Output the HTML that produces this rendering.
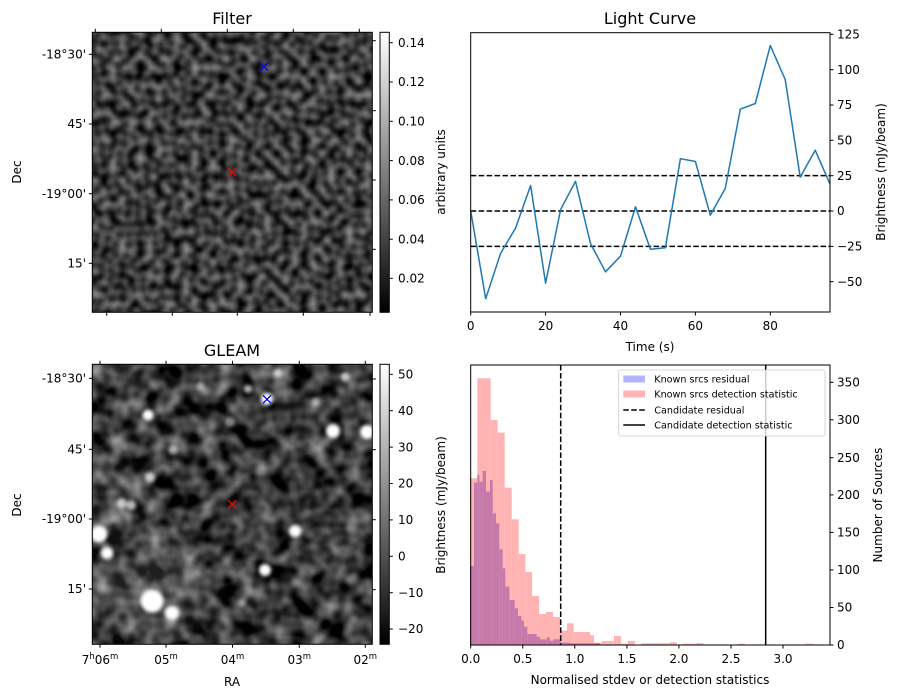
<!DOCTYPE html>
<html><head><meta charset="utf-8"><style>
html,body{margin:0;padding:0;background:#fff;}
svg{display:block;font-family:"DejaVu Sans","Liberation Sans",sans-serif;}
</style></head><body>
<svg width="898" height="699" viewBox="0 0 898 699" xmlns="http://www.w3.org/2000/svg">
<defs>
<filter id="fnoise" x="92.3" y="32.3" width="280" height="280" filterUnits="userSpaceOnUse" color-interpolation-filters="sRGB">
<feTurbulence type="fractalNoise" baseFrequency="0.11" numOctaves="1" seed="3" result="t"/>
<feColorMatrix in="t" type="matrix" values="0.9 0 0 0 -0.21  0.9 0 0 0 -0.21  0.9 0 0 0 -0.21  0 0 0 0 1"/>
</filter>
<filter id="gnoise" x="92.3" y="364.3" width="280" height="280" filterUnits="userSpaceOnUse" color-interpolation-filters="sRGB">
<feTurbulence type="fractalNoise" baseFrequency="0.055" numOctaves="2" seed="7" result="t"/>
<feColorMatrix in="t" type="matrix" values="1.05 0 0 0 -0.3  1.05 0 0 0 -0.3  1.05 0 0 0 -0.3  0 0 0 0 1"/>
</filter>
<filter id="blur2" color-interpolation-filters="sRGB"><feGaussianBlur stdDeviation="1.8"/></filter>
<filter id="blur8" x="-1" y="-1" width="3" height="3" color-interpolation-filters="sRGB"><feGaussianBlur stdDeviation="14"/></filter>
<linearGradient id="cb" x1="0" y1="1" x2="0" y2="0"><stop offset="0" stop-color="#000"/><stop offset="1" stop-color="#fff"/></linearGradient>
<clipPath id="cg"><rect x="92.3" y="364.3" width="280" height="280"/></clipPath>
</defs>

<!-- FILTER image -->
<rect x="92.3" y="32.3" width="280" height="280" fill="#444" filter="url(#fnoise)"/>
<rect x="92.3" y="32.3" width="280" height="280" fill="none" stroke="#000" stroke-width="1"/>
<text x="232" y="24" font-size="16" text-anchor="middle">Filter</text>
<g stroke="#000" stroke-width="1">
<line x1="95.3" y1="32.3" x2="95.3" y2="28.8"/><line x1="161.3" y1="32.3" x2="161.3" y2="28.8"/><line x1="227.3" y1="32.3" x2="227.3" y2="28.8"/><line x1="293.3" y1="32.3" x2="293.3" y2="28.8"/><line x1="359.3" y1="32.3" x2="359.3" y2="28.8"/>
<line x1="106.7" y1="312.3" x2="106.7" y2="315.8"/><line x1="172.3" y1="312.3" x2="172.3" y2="315.8"/><line x1="237.3" y1="312.3" x2="237.3" y2="315.8"/><line x1="303.3" y1="312.3" x2="303.3" y2="315.8"/><line x1="370" y1="312.3" x2="370" y2="315.8"/>
<line x1="92.3" y1="54.3" x2="88.8" y2="54.3"/><line x1="92.3" y1="124" x2="88.8" y2="124"/><line x1="92.3" y1="193.7" x2="88.8" y2="193.7"/><line x1="92.3" y1="263.3" x2="88.8" y2="263.3"/>
<line x1="372.3" y1="40.7" x2="375.8" y2="40.7"/><line x1="372.3" y1="110.7" x2="375.8" y2="110.7"/><line x1="372.3" y1="180" x2="375.8" y2="180"/><line x1="372.3" y1="249.3" x2="375.8" y2="249.3"/>
</g>
<g font-size="12" text-anchor="end">
<text x="86" y="58.5">-18°30'</text><text x="86" y="128.2">45'</text><text x="86" y="197.9">-19°00'</text><text x="86" y="267.5">15'</text>
</g>
<text transform="translate(21,172) rotate(-90)" font-size="12" text-anchor="middle">Dec</text>
<g stroke-width="1.3"><path d="M260,62.7 l8,8 M268,62.7 l-8,8" stroke="#0000ff"/><path d="M228.3,168.3 l8,8 M236.3,168.3 l-8,8" stroke="#ff0000"/></g>
<!-- filter colorbar -->
<rect x="380" y="32.3" width="9.3" height="280" fill="url(#cb)" stroke="#000" stroke-width="1"/>
<g stroke="#000"><line x1="389.3" y1="42.7" x2="392.8" y2="42.7"/><line x1="389.3" y1="82" x2="392.8" y2="82"/><line x1="389.3" y1="121.3" x2="392.8" y2="121.3"/><line x1="389.3" y1="160.6" x2="392.8" y2="160.6"/><line x1="389.3" y1="199.9" x2="392.8" y2="199.9"/><line x1="389.3" y1="239.2" x2="392.8" y2="239.2"/><line x1="389.3" y1="278.3" x2="392.8" y2="278.3"/></g>
<g font-size="12"><text x="398" y="46.9">0.14</text><text x="398" y="86.2">0.12</text><text x="398" y="125.5">0.10</text><text x="398" y="164.8">0.08</text><text x="398" y="204.1">0.06</text><text x="398" y="243.4">0.04</text><text x="398" y="282.5">0.02</text></g>
<text transform="translate(445,172) rotate(-90)" font-size="12" text-anchor="middle">arbitrary units</text>

<!-- GLEAM image -->
<g clip-path="url(#cg)">
<rect x="92.3" y="364.3" width="280" height="280" fill="#444" filter="url(#gnoise)"/>
<g fill="#fff" opacity="0.12" filter="url(#blur8)"><ellipse cx="150" cy="590" rx="60" ry="45"/><ellipse cx="110" cy="500" rx="25" ry="40"/></g>
<g filter="url(#blur2)" fill="#fff">
<circle cx="148" cy="415" r="5.5"/><circle cx="99" cy="534" r="8.5"/><circle cx="107" cy="553" r="6"/><circle cx="152" cy="601" r="11.5"/><circle cx="172" cy="613" r="7"/><circle cx="295" cy="531" r="6"/><circle cx="265" cy="570" r="6"/><circle cx="333" cy="431" r="7"/><circle cx="367" cy="432" r="7"/><circle cx="267" cy="399" r="6"/>
<g opacity="0.7"><circle cx="278" cy="373" r="4.5"/><circle cx="345" cy="377" r="4.5"/><circle cx="150" cy="477" r="5"/><circle cx="122" cy="503" r="5"/><circle cx="131" cy="505" r="5"/><circle cx="248" cy="389" r="4"/></g>
<g opacity="0.5"><circle cx="173" cy="450" r="4.5"/><circle cx="230" cy="422" r="5"/><circle cx="200" cy="386" r="4"/><circle cx="242" cy="603" r="4"/><circle cx="315" cy="402" r="4"/></g>
</g>
</g>
<rect x="92.3" y="364.3" width="280" height="280" fill="none" stroke="#000" stroke-width="1"/>
<text x="232" y="356" font-size="16" text-anchor="middle">GLEAM</text>
<g stroke="#000" stroke-width="1">
<line x1="100" y1="364.3" x2="100" y2="360.8"/><line x1="166" y1="364.3" x2="166" y2="360.8"/><line x1="232.5" y1="364.3" x2="232.5" y2="360.8"/><line x1="299.3" y1="364.3" x2="299.3" y2="360.8"/><line x1="365.3" y1="364.3" x2="365.3" y2="360.8"/>
<line x1="100" y1="644.3" x2="100" y2="647.8"/><line x1="166" y1="644.3" x2="166" y2="647.8"/><line x1="232.5" y1="644.3" x2="232.5" y2="647.8"/><line x1="299.3" y1="644.3" x2="299.3" y2="647.8"/><line x1="365.3" y1="644.3" x2="365.3" y2="647.8"/>
<line x1="92.3" y1="378.3" x2="88.8" y2="378.3"/><line x1="92.3" y1="449.3" x2="88.8" y2="449.3"/><line x1="92.3" y1="519" x2="88.8" y2="519"/><line x1="92.3" y1="589" x2="88.8" y2="589"/>
<line x1="372.3" y1="379" x2="375.8" y2="379"/><line x1="372.3" y1="449.7" x2="375.8" y2="449.7"/><line x1="372.3" y1="519.7" x2="375.8" y2="519.7"/><line x1="372.3" y1="589.7" x2="375.8" y2="589.7"/>
</g>
<g font-size="12" text-anchor="end">
<text x="86" y="382.5">-18°30'</text><text x="86" y="453.5">45'</text><text x="86" y="523.2">-19°00'</text><text x="86" y="593.2">15'</text>
</g>
<text transform="translate(21,505) rotate(-90)" font-size="12" text-anchor="middle">Dec</text>
<g font-size="12" text-anchor="middle">
<text x="100" y="664">7<tspan font-size="8.5" dy="-5">h</tspan><tspan dy="5">06</tspan><tspan font-size="8.5" dy="-5">m</tspan></text>
<text x="166" y="664">05<tspan font-size="8.5" dy="-5">m</tspan></text>
<text x="232.5" y="664">04<tspan font-size="8.5" dy="-5">m</tspan></text>
<text x="299.3" y="664">03<tspan font-size="8.5" dy="-5">m</tspan></text>
<text x="365.3" y="664">02<tspan font-size="8.5" dy="-5">m</tspan></text>
</g>
<text x="232" y="686" font-size="12" text-anchor="middle">RA</text>
<g stroke-width="1.3"><path d="M263,395.3 l8,8 M271,395.3 l-8,8" stroke="#0000ff"/><path d="M228.3,500.3 l8,8 M236.3,500.3 l-8,8" stroke="#ff0000"/></g>
<!-- gleam colorbar -->
<rect x="380" y="364.3" width="9.3" height="280" fill="url(#cb)" stroke="#000" stroke-width="1"/>
<g stroke="#000"><line x1="389.3" y1="374.3" x2="392.8" y2="374.3"/><line x1="389.3" y1="410.7" x2="392.8" y2="410.7"/><line x1="389.3" y1="447.1" x2="392.8" y2="447.1"/><line x1="389.3" y1="483.5" x2="392.8" y2="483.5"/><line x1="389.3" y1="519.9" x2="392.8" y2="519.9"/><line x1="389.3" y1="556.3" x2="392.8" y2="556.3"/><line x1="389.3" y1="592.7" x2="392.8" y2="592.7"/><line x1="389.3" y1="629" x2="392.8" y2="629"/></g>
<g font-size="12"><text x="398" y="378.5">50</text><text x="398" y="414.9">40</text><text x="398" y="451.3">30</text><text x="398" y="487.7">20</text><text x="398" y="524.1">10</text><text x="398" y="560.5">0</text><text x="398" y="596.9">−10</text><text x="398" y="633.2">−20</text></g>
<text transform="translate(445,505) rotate(-90)" font-size="12" text-anchor="middle">Brightness (mJy/beam)</text>

<!-- LIGHT CURVE -->
<text x="650" y="24" font-size="16" text-anchor="middle">Light Curve</text>
<g stroke="#000" stroke-width="1.5" stroke-dasharray="5.55,2.4">
<line x1="470.7" y1="175.6" x2="830" y2="175.6"/><line x1="470.7" y1="211" x2="830" y2="211"/><line x1="470.7" y1="246.4" x2="830" y2="246.4"/>
</g>
<polyline fill="none" stroke="#1f77b4" stroke-width="1.5" stroke-linejoin="round" points="470.7,211 485.7,298.7 500.6,253.4 515.6,228 530.6,185.5 545.6,283.1 560.6,209.6 575.5,181.3 590.5,243.5 605.5,271.8 620.5,256.2 635.5,206.8 650.4,249.2 665.4,247.8 680.4,158.7 695.4,161.5 710.3,215.2 725.3,188.4 740.3,109.2 755.3,103.5 770.3,45.6 785.2,79.5 800.2,177.1 815.2,150.2 830,184.1"/>
<rect x="470.7" y="32.7" width="359.3" height="279.3" fill="none" stroke="#000" stroke-width="1"/>
<g stroke="#000">
<line x1="470.7" y1="312" x2="470.7" y2="315.5"/><line x1="545.6" y1="312" x2="545.6" y2="315.5"/><line x1="620.5" y1="312" x2="620.5" y2="315.5"/><line x1="695.4" y1="312" x2="695.4" y2="315.5"/><line x1="770.3" y1="312" x2="770.3" y2="315.5"/>
<line x1="830" y1="34.3" x2="833.5" y2="34.3"/><line x1="830" y1="69.7" x2="833.5" y2="69.7"/><line x1="830" y1="105" x2="833.5" y2="105"/><line x1="830" y1="140.3" x2="833.5" y2="140.3"/><line x1="830" y1="175.7" x2="833.5" y2="175.7"/><line x1="830" y1="211" x2="833.5" y2="211"/><line x1="830" y1="246.4" x2="833.5" y2="246.4"/><line x1="830" y1="281.7" x2="833.5" y2="281.7"/>
</g>
<g font-size="12" text-anchor="middle"><text x="470.7" y="330">0</text><text x="545.6" y="330">20</text><text x="620.5" y="330">40</text><text x="695.4" y="330">60</text><text x="770.3" y="330">80</text></g>
<g font-size="12"><text x="837" y="38.5">125</text><text x="837" y="73.9">100</text><text x="837" y="109.2">75</text><text x="837" y="144.5">50</text><text x="837" y="179.9">25</text><text x="837" y="215.2">0</text><text x="837" y="250.6">−25</text><text x="837" y="285.9">−50</text></g>
<text x="650" y="351" font-size="12" text-anchor="middle">Time (s)</text>
<text transform="translate(885,172) rotate(-90)" font-size="12" text-anchor="middle">Brightness (mJy/beam)</text>

<!-- HISTOGRAM -->
<g fill="#ffb3b3" transform="translate(470,360) scale(0.33333)">
<rect x="0" y="355" width="22" height="500"/><rect x="22" y="55" width="40" height="800"/><rect x="62" y="180" width="21" height="675"/><rect x="83" y="218" width="21" height="637"/><rect x="104" y="383" width="21" height="472"/><rect x="125" y="478" width="21" height="377"/><rect x="146" y="582" width="20" height="273"/><rect x="166" y="636" width="20" height="219"/><rect x="186" y="708" width="21" height="147"/><rect x="207" y="762" width="21" height="93"/><rect x="228" y="756" width="21" height="99"/><rect x="249" y="771" width="21" height="84"/><rect x="270" y="812" width="21" height="43"/><rect x="291" y="790" width="20" height="65"/><rect x="311" y="816" width="49" height="39"/>
</g>
<g fill="#ffb3b3" transform="translate(460,360) scale(0.33333)">
<rect x="380" y="826" width="22" height="29"/><rect x="402" y="848" width="23" height="7"/><rect x="425" y="843" width="37" height="12"/><rect x="462" y="828" width="21" height="27"/><rect x="483" y="851" width="20" height="4"/><rect x="503" y="843" width="22" height="12"/><rect x="545" y="850" width="85" height="5"/><rect x="630" y="847" width="20" height="8"/><rect x="670" y="851" width="40" height="4"/><rect x="710" y="849" width="20" height="6"/><rect x="835" y="851" width="20" height="4"/><rect x="1037" y="851" width="23" height="4"/>
</g>
<g fill="#c67aaa" transform="translate(470,360) scale(0.33333)">
<rect x="0" y="618" width="12" height="237"/><rect x="12" y="368" width="10" height="487"/><rect x="22" y="345" width="6" height="510"/><rect x="28" y="365" width="10" height="490"/><rect x="38" y="333" width="10" height="522"/><rect x="48" y="395" width="12" height="460"/><rect x="60" y="360" width="8" height="495"/><rect x="68" y="460" width="10" height="395"/><rect x="78" y="490" width="10" height="365"/><rect x="88" y="568" width="10" height="287"/><rect x="98" y="625" width="8" height="230"/><rect x="106" y="680" width="12" height="175"/><rect x="118" y="720" width="16" height="135"/><rect x="134" y="745" width="10" height="110"/><rect x="144" y="768" width="10" height="87"/><rect x="154" y="782" width="8" height="73"/><rect x="162" y="800" width="10" height="55"/><rect x="172" y="822" width="28" height="33"/><rect x="200" y="830" width="10" height="25"/><rect x="210" y="838" width="20" height="17"/><rect x="230" y="832" width="10" height="23"/><rect x="240" y="842" width="10" height="13"/><rect x="250" y="838" width="22" height="17"/><rect x="272" y="848" width="28" height="7"/><rect x="300" y="850" width="90" height="5"/>
</g>
<line x1="560.7" y1="365" x2="560.7" y2="645" stroke="#000" stroke-width="1.5" stroke-dasharray="5.55,2.4"/>
<line x1="765.7" y1="365" x2="765.7" y2="645" stroke="#000" stroke-width="1.5"/>
<rect x="470.7" y="365" width="359.3" height="280" fill="none" stroke="#000" stroke-width="1"/>
<!-- legend -->
<rect x="618.7" y="370" width="206.3" height="66" rx="2" fill="#fff" fill-opacity="0.8" stroke="#ccc" stroke-width="0.8"/>
<rect x="623.3" y="375.5" width="21.7" height="7" fill="#b3b3ff"/>
<rect x="623.3" y="390.5" width="21.7" height="7" fill="#ffb3b3"/>
<line x1="623.3" y1="410" x2="645" y2="410" stroke="#000" stroke-width="1.5" stroke-dasharray="5.55,2.4"/>
<line x1="623.3" y1="425" x2="645" y2="425" stroke="#000" stroke-width="1.5"/>
<g font-size="9.6"><text x="654.3" y="382.5">Known srcs residual</text><text x="654.3" y="397.5">Known srcs detection statistic</text><text x="654.3" y="413.3">Candidate residual</text><text x="654.3" y="428.3">Candidate detection statistic</text></g>
<g stroke="#000">
<line x1="470.7" y1="645" x2="470.7" y2="648.5"/><line x1="522.8" y1="645" x2="522.8" y2="648.5"/><line x1="574.8" y1="645" x2="574.8" y2="648.5"/><line x1="626.9" y1="645" x2="626.9" y2="648.5"/><line x1="678.9" y1="645" x2="678.9" y2="648.5"/><line x1="731" y1="645" x2="731" y2="648.5"/><line x1="783" y1="645" x2="783" y2="648.5"/>
<line x1="830" y1="645" x2="833.5" y2="645"/><line x1="830" y1="607.5" x2="833.5" y2="607.5"/><line x1="830" y1="569.9" x2="833.5" y2="569.9"/><line x1="830" y1="532.4" x2="833.5" y2="532.4"/><line x1="830" y1="494.9" x2="833.5" y2="494.9"/><line x1="830" y1="457.7" x2="833.5" y2="457.7"/><line x1="830" y1="419.8" x2="833.5" y2="419.8"/><line x1="830" y1="382.3" x2="833.5" y2="382.3"/>
</g>
<g font-size="12" text-anchor="middle"><text x="470.7" y="663">0.0</text><text x="522.8" y="663">0.5</text><text x="574.8" y="663">1.0</text><text x="626.9" y="663">1.5</text><text x="678.9" y="663">2.0</text><text x="731" y="663">2.5</text><text x="783" y="663">3.0</text></g>
<g font-size="12"><text x="837" y="649.2">0</text><text x="837" y="611.7">50</text><text x="837" y="574.1">100</text><text x="837" y="536.6">150</text><text x="837" y="499.1">200</text><text x="837" y="461.9">250</text><text x="837" y="424">300</text><text x="837" y="386.5">350</text></g>
<text x="650" y="684" font-size="12" text-anchor="middle">Normalised stdev or detection statistics</text>
<text transform="translate(882,505) rotate(-90)" font-size="12" text-anchor="middle">Number of Sources</text>
</svg>
</body></html>
